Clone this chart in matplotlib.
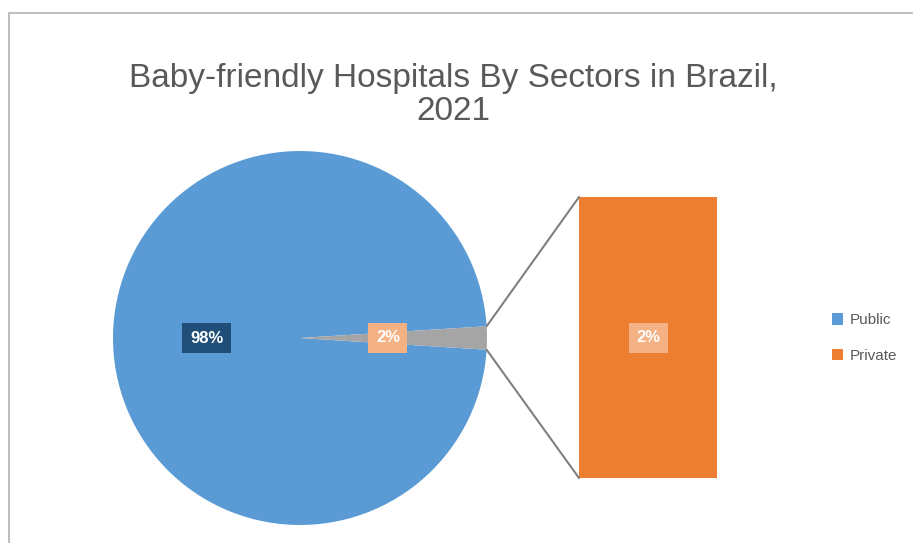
"""
Bar-of-pie chart: baby-friendly hospitals by sector
"""
import matplotlib
matplotlib.use('Agg')
import matplotlib.pyplot as plt
from matplotlib.patches import ConnectionPatch, Rectangle, Patch
import numpy as np

plt.rcParams['font.family'] = ['Liberation Sans', 'DejaVu Sans']

# data
sectors = ['Public', 'Private']
shares = [98, 2]
colors = ['#5B9BD5', '#ED7D31']
title = 'Baby-friendly Hospitals By Sectors in Brazil,\n2021'

fig = plt.figure(figsize=(9.13, 5.43), dpi=100)

# outer chart border
fig.patches.append(Rectangle((9 / 913, -0.05), 1.2, 1 - 13 / 543 + 0.05, transform=fig.transFigure,
                             fill=False, edgecolor='#BFBFBF', linewidth=1.5))

fig.text(0.497, 1 - 95 / 543, title, ha='center', va='center', fontsize=24, color='#595959',
         linespacing=1.08)

# pie
ax1 = fig.add_axes([113 / 913, 18 / 543, 374 / 913, 374 / 543])
half = shares[1] / sum(shares) * 360 / 2
wedges, texts, autotexts = ax1.pie(shares, colors=[colors[0], '#A5A5A5'], startangle=half,
                                   autopct='%1.0f%%', pctdistance=0.5, radius=1,
                                   wedgeprops=dict(linewidth=0))
ax1.set_xlim(-1, 1)
ax1.set_ylim(-1, 1)
ax1.set_aspect('equal')
autotexts[1].set_x(0.47)
box_cols = ['#1F4E79', '#F4B183']
for t, bc in zip(autotexts, box_cols):
    t.set_color('white')
    t.set_fontsize(12)
    t.set_fontweight('bold')
    t.set_bbox(dict(boxstyle='square,pad=0.45', facecolor=bc, edgecolor='none'))

# bar of the small slice
ax2 = fig.add_axes([579 / 913, 65 / 543, 138 / 913, 281 / 543])
ax2.bar([0], [shares[1]], width=1, color=colors[1])
ax2.set_xlim(-0.5, 0.5)
ax2.set_ylim(0, shares[1])
ax2.axis('off')
ax2.text(0, shares[1] / 2, '%d%%' % shares[1], ha='center', va='center', color='white',
         fontsize=12, fontweight='bold',
         bbox=dict(boxstyle='square,pad=0.45', facecolor='#F4B183', edgecolor='none'))

# connector lines
theta = np.deg2rad(half)
for sign, ybar in ((1, shares[1]), (-1, 0)):
    con = ConnectionPatch(xyA=(-0.5, ybar), coordsA=ax2.transData,
                          xyB=(np.cos(theta), sign * np.sin(theta)), coordsB=ax1.transData,
                          color='#808080', linewidth=1.5)
    fig.add_artist(con)

# legend
handles = [Patch(facecolor=c, edgecolor='none') for c in colors]
fig.legend(handles, sectors, loc='center left', bbox_to_anchor=(818 / 913, 1 - 338 / 543),
           frameon=False, fontsize=11, labelcolor='#595959', handlelength=0.75,
           handleheight=0.75, handletextpad=0.4, labelspacing=1.4)

fig.savefig('out.png', dpi=100)
